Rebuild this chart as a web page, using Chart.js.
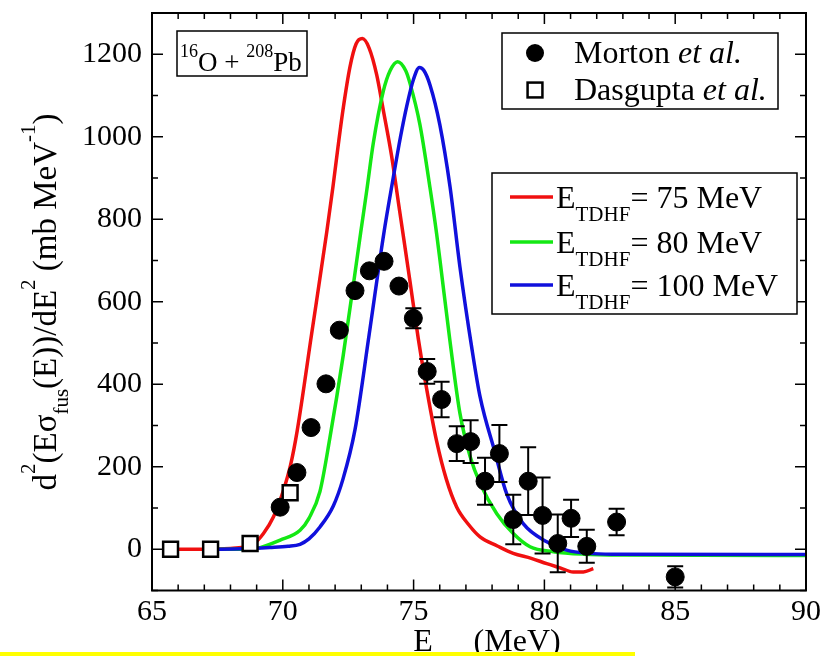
<!DOCTYPE html>
<html>
<head>
<meta charset="utf-8">
<script src="https://cdn.jsdelivr.net/npm/chart.js@4.4.1/dist/chart.umd.min.js"></script>
<style>
    html, body { margin: 0; padding: 0; background: #fff; }
    #wrap { position: relative; width: 827px; height: 656px; overflow: hidden; }
    #mark { position: absolute; left: 0; top: 652px; width: 635px; height: 4px; background: #ffff00; }
</style>
</head>
<body>
<div id="wrap">
    <canvas id="fusionChart"></canvas>
    <div id="mark"></div>
</div>
<script>
// DATA
// TDHF curves, E_TDHF = 75 / 80 / 100 MeV
const redX = [66.0, 67.0, 68.0, 68.5, 68.87, 69.26, 69.64, 70.02, 70.3, 70.55, 71.1, 71.68, 71.92, 72.11, 72.3, 72.57, 72.8, 73.04, 73.3, 73.59, 73.84, 74.16, 74.42, 74.63, 74.86, 75.18, 75.44, 75.88, 76.25, 76.65, 77.1, 77.54, 78.2, 78.81, 79.5, 80.09, 80.6, 81.1, 81.49, 81.87];
const redY = [0, 0, 2, 5, 12, 38, 78, 142, 205, 287, 521, 769, 880, 975, 1065, 1170, 1225, 1238, 1215, 1150, 1065, 953, 840, 750, 650, 510, 410, 262, 170, 102, 60, 30, 8, -10, -22, -35, -45, -55, -55, -47];

const greenX = [67.2, 68.5, 69.0, 69.9, 70.66, 71.0, 71.42, 71.8, 72.31, 72.98, 73.21, 73.46, 73.84, 74.1, 74.39, 74.7, 74.86, 75.24, 75.63, 75.88, 76.01, 76.39, 76.77, 77.16, 77.54, 78.18, 78.81, 79.45, 80.34, 81.5, 83.0, 90.0];
const greenY = [0, 0, 2, 22, 46, 75, 140, 270, 470, 769, 870, 985, 1110, 1160, 1182, 1160, 1130, 1030, 875, 765, 700, 505, 330, 225, 160, 86, 38, 6, -6, -12, -14, -15];

const blueX = [67.2, 68.5, 69.5, 70.2, 70.66, 71.0, 71.42, 71.93, 72.3, 72.76, 73.3, 73.86, 74.22, 74.5, 74.74, 75.0, 75.22, 75.4, 75.63, 76.0, 76.39, 76.77, 77.22, 77.54, 78.11, 78.56, 79.19, 80.09, 80.85, 81.7, 82.6, 90.0];
const blueY = [0, 1, 4, 7, 12, 25, 54, 105, 170, 290, 520, 765, 900, 1000, 1075, 1140, 1168, 1160, 1125, 1030, 880, 685, 490, 370, 235, 134, 62, 18, -2, -10, -12, -13];

// Morton et al. (filled circles, with error bars)
const mortonX = [69.9, 70.54, 71.08, 71.65, 72.16, 72.76, 73.31, 73.87, 74.44, 74.99, 75.52, 76.07, 76.65, 77.18, 77.73, 78.28, 78.81, 79.38, 79.93, 80.51, 81.02, 81.62, 82.76, 85.0];
const mortonY = [102, 186, 295, 401, 531, 627, 675, 698, 638, 560, 431, 363, 256, 261, 165, 232, 72, 165, 82, 14, 75, 7, 66, -67];
const mortonErr = [0, 0, 0, 0, 0, 0, 0, 0, 0, 24, 30, 43, 42, 52, 57, 69, 60, 82, 92, 70, 45, 40, 32, 26];

// Dasgupta et al. (open squares)
const dasguptaX = [65.71, 67.24, 68.75, 70.28];
const dasguptaY = [0, 0, 14, 137];

// axis ticks
const xTicks = [65, 70, 75, 80, 85, 90];
const yTicks = [0, 200, 400, 600, 800, 1000, 1200];

const curveLabels = ['75 MeV', '80 MeV', '100 MeV'];

const SERIF = '"Liberation Serif", "DejaVu Serif", serif';

function pairs(xs, ys) {
    return xs.map((x, i) => ({ x: x, y: ys[i] }));
}

// draw a run of text pieces (size, italic, vertical shift) on one baseline
function richWidth(ctx, parts) {
    let w = 0;
    parts.forEach(p => {
        ctx.font = (p.italic ? 'italic ' : '') + p.size + 'px ' + SERIF;
        w += ctx.measureText(p.t).width;
    });
    return w;
}

function drawRich(ctx, x, y, parts) {
    ctx.textBaseline = 'alphabetic';
    ctx.textAlign = 'left';
    parts.forEach(p => {
        ctx.font = (p.italic ? 'italic ' : '') + p.size + 'px ' + SERIF;
        ctx.fillText(p.t, x, y + (p.dy || 0));
        x += ctx.measureText(p.t).width;
    });
    return x;
}

// ERROR BARS - drawn just before the Morton markers
const errorBars = {
    id: 'errorBars',
    beforeDatasetDraw(chart, args) {
        if (chart.data.datasets[args.index].label !== 'Morton') return;
        const ctx = chart.ctx;
        const xs = chart.scales.x, ys = chart.scales.y;
        ctx.save();
        ctx.strokeStyle = '#000';
        ctx.lineWidth = 2;
        mortonX.forEach((x, i) => {
            const e = mortonErr[i];
            if (!e) return;
            const px = xs.getPixelForValue(x);
            const top = ys.getPixelForValue(mortonY[i] + e);
            const bot = ys.getPixelForValue(mortonY[i] - e);
            ctx.beginPath();
            ctx.moveTo(px, top); ctx.lineTo(px, bot);
            ctx.moveTo(px - 8, top); ctx.lineTo(px + 8, top);
            ctx.moveTo(px - 8, bot); ctx.lineTo(px + 8, bot);
            ctx.stroke();
        });
        ctx.restore();
    }
};

// FRAME, INWARD TICKS, TITLES, LEGENDS
const decorations = {
    id: 'decorations',
    afterDraw(chart) {
        const ctx = chart.ctx;
        const a = chart.chartArea;
        const xs = chart.scales.x, ys = chart.scales.y;
        ctx.save();
        ctx.strokeStyle = '#000';
        ctx.fillStyle = '#000';
        ctx.lineWidth = 2;
        ctx.strokeRect(a.left, a.top, a.right - a.left, a.bottom - a.top);

        ctx.lineWidth = 1.5;
        ctx.beginPath();
        for (let v = xs.min; v <= xs.max; v += 1) {
            const px = xs.getPixelForValue(v);
            const len = v % 5 === 0 ? 11 : 6;
            ctx.moveTo(px, a.bottom); ctx.lineTo(px, a.bottom - len);
            ctx.moveTo(px, a.top); ctx.lineTo(px, a.top + len);
        }
        for (let v = ys.min; v <= ys.max; v += 100) {
            const py = ys.getPixelForValue(v);
            const len = v % 200 === 0 ? 11 : 6;
            ctx.moveTo(a.left, py); ctx.lineTo(a.left + len, py);
            ctx.moveTo(a.right, py); ctx.lineTo(a.right - len, py);
        }
        ctx.stroke();

        // y title
        const yParts = [
            { t: 'd', size: 33 }, { t: '2', size: 21, dy: -21 },
            { t: '(E\u03c3', size: 33 }, { t: 'fus', size: 21, dy: 12 },
            { t: '(E))/dE', size: 33 }, { t: '2', size: 21, dy: -21 },
            { t: ' (mb MeV', size: 33 }, { t: '-1', size: 21, dy: -21 },
            { t: ')', size: 33 }
        ];
        ctx.save();
        ctx.translate(56, 302);
        ctx.rotate(-Math.PI / 2);
        drawRich(ctx, -richWidth(ctx, yParts) / 2, 0, yParts);
        ctx.restore();

        // x title (subscript runs off the bottom edge)
        const xParts = [
            { t: 'E', size: 32 }, { t: 'c.m.', size: 19, dy: 12 },
            { t: ' (MeV)', size: 32 }
        ];
        drawRich(ctx, (a.left + a.right) / 2 - richWidth(ctx, xParts) / 2 + 8, 651, xParts);

        // reaction label
        ctx.lineWidth = 1.5;
        ctx.strokeRect(177, 31, 130, 45);
        drawRich(ctx, 180, 71, [
            { t: '16', size: 18, dy: -14 }, { t: 'O + ', size: 27 },
            { t: '208', size: 18, dy: -14 }, { t: 'Pb', size: 27 }
        ]);

        // data legend
        ctx.fillStyle = '#fff';
        ctx.fillRect(502, 33, 276, 76);
        ctx.fillStyle = '#000';
        ctx.strokeRect(502, 33, 276, 76);
        const dsM = chart.data.datasets[3], dsD = chart.data.datasets[4];
        ctx.beginPath();
        ctx.arc(535, 53, dsM.pointRadius, 0, Math.PI * 2);
        ctx.fillStyle = dsM.backgroundColor;
        ctx.fill();
        ctx.fillStyle = dsD.backgroundColor;
        ctx.strokeStyle = dsD.borderColor;
        ctx.lineWidth = dsD.borderWidth;
        const s = dsD.pointRadius * Math.SQRT1_2;
        ctx.fillRect(535 - s, 90 - s, 2 * s, 2 * s);
        ctx.strokeRect(535 - s, 90 - s, 2 * s, 2 * s);
        ctx.fillStyle = '#000';
        drawRich(ctx, 574, 63, [{ t: 'Morton ', size: 32 }, { t: 'et al.', size: 32, italic: true }]);
        drawRich(ctx, 574, 100, [{ t: 'Dasgupta ', size: 32 }, { t: 'et al.', size: 32, italic: true }]);

        // curve legend
        ctx.fillStyle = '#fff';
        ctx.fillRect(492, 173, 305, 141);
        ctx.strokeStyle = '#000';
        ctx.lineWidth = 1.5;
        ctx.strokeRect(492, 173, 305, 141);
        const rows = [197, 242, 285];
        [0, 1, 2].forEach(i => {
            const ds = chart.data.datasets[i];
            ctx.strokeStyle = ds.borderColor;
            ctx.lineWidth = ds.borderWidth;
            ctx.beginPath();
            ctx.moveTo(510, rows[i]); ctx.lineTo(553, rows[i]);
            ctx.stroke();
            ctx.fillStyle = '#000';
            drawRich(ctx, 556, rows[i] + 11, [
                { t: 'E', size: 32 }, { t: 'TDHF', size: 21, dy: 13 },
                { t: '= ' + curveLabels[i], size: 32 }
            ]);
        });
        ctx.restore();
    }
};

const ctx = document.getElementById('fusionChart').getContext('2d');
const fusionChart = new Chart(ctx, {
    type: 'scatter',
    data: {
        datasets: [
            {
                label: 'E_TDHF = 75 MeV', type: 'line', data: pairs(redX, redY),
                borderColor: 'rgb(240, 16, 16)', borderWidth: 3.5, pointRadius: 0,
                cubicInterpolationMode: 'monotone', fill: false, order: 5
            },
            {
                label: 'E_TDHF = 80 MeV', type: 'line', data: pairs(greenX, greenY),
                borderColor: 'rgb(20, 232, 20)', borderWidth: 3.5, pointRadius: 0,
                cubicInterpolationMode: 'monotone', fill: false, order: 4
            },
            {
                label: 'E_TDHF = 100 MeV', type: 'line', data: pairs(blueX, blueY),
                borderColor: 'rgb(16, 16, 220)', borderWidth: 3.5, pointRadius: 0,
                cubicInterpolationMode: 'monotone', fill: false, order: 3
            },
            {
                label: 'Morton', data: pairs(mortonX, mortonY),
                pointStyle: 'circle', pointRadius: 9,
                backgroundColor: '#000', borderColor: '#000', borderWidth: 1, order: 2
            },
            {
                label: 'Dasgupta', data: pairs(dasguptaX, dasguptaY),
                pointStyle: 'rect', pointRadius: 10.5,
                backgroundColor: '#fff', borderColor: '#000', borderWidth: 2.5, order: 1
            }
        ]
    },
    options: {
        responsive: true,
        maintainAspectRatio: false,
        animation: false,
        events: [],
        layout: { padding: { top: 9.5, right: 21, left: 0, bottom: 0 } },
        plugins: {
            legend: { display: false },
            tooltip: { enabled: false }
        },
        scales: {
            x: {
                type: 'linear', min: 65, max: 90,
                grid: { display: false, drawTicks: false },
                border: { display: false },
                afterBuildTicks: (scale) => { scale.ticks = xTicks.map(v => ({ value: v })); },
                afterFit: (scale) => { scale.height = 65.5; scale.paddingLeft = 0; scale.paddingRight = 0; },
                ticks: { color: '#000', font: { family: SERIF, size: 30 }, padding: 4, maxRotation: 0,
                         callback: (v) => String(v) }
            },
            y: {
                type: 'linear', min: -100, max: 1300,
                grid: { display: false, drawTicks: false },
                border: { display: false },
                afterBuildTicks: (scale) => { scale.ticks = yTicks.map(v => ({ value: v })); },
                afterFit: (scale) => { scale.width = 152; scale.paddingTop = 0; scale.paddingBottom = 0; },
                ticks: { color: '#000', font: { family: SERIF, size: 30 }, padding: 10,
                         callback: (v) => String(v) }
            }
        }
    },
    plugins: [errorBars, decorations]
});
</script>
</body>
</html>
